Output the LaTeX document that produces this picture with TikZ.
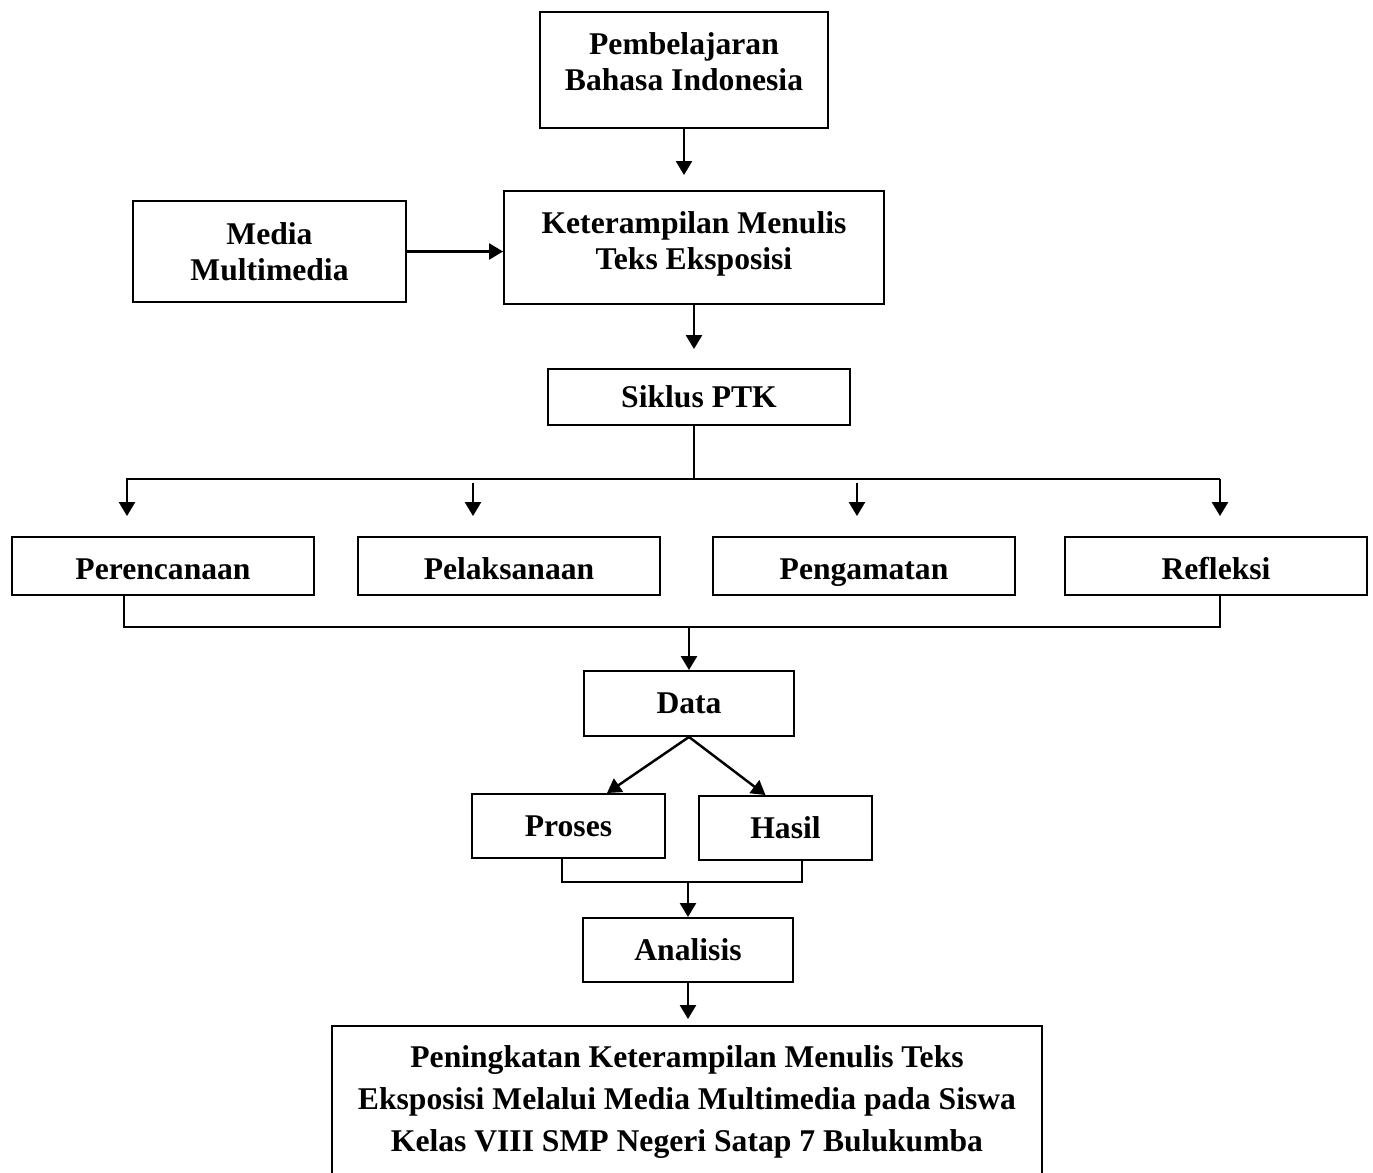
\documentclass[tikz,border=0pt]{standalone}
\usepackage{fontspec}
\setmainfont{Liberation Serif}
\usepackage{tikz}
\usetikzlibrary{arrows.meta, positioning}
\usepackage{xcolor}
\definecolor{boxbd}{RGB}{0,0,0}
\definecolor{arrowcol}{RGB}{0,0,0}

\begin{document}
\begin{tikzpicture}[
    x = 0.02cm, y = -0.02cm,
    box/.style    = {rectangle, draw=boxbd, line width=1.1pt, align=center,
                     inner sep=2pt,
                     font=\bfseries\fontsize{18}{20.5}\selectfont},
    stepbox/.style = {box, minimum width=6.04cm, minimum height=1.16cm,
                     text height=17pt, text depth=1.7pt},
    line/.style   = {line width=1.4pt, color=arrowcol},
    arrow/.style  = {line, -{Triangle[length=2.8mm,width=3.2mm]}},
]

\clip (0,0) rectangle (1373,1173);
\fill[white] (0,0) rectangle (1373,1173);

% ── Top boxes ───────────────────────────────────────────────────
\node[box, minimum width=5.76cm, minimum height=2.32cm, text depth=10pt]
    (b1) at (684,70) {Pembelajaran\\Bahasa Indonesia};
\node[box, minimum width=7.6cm, minimum height=2.26cm, text depth=8pt]
    (b2) at (694,247.5) {Keterampilan Menulis\\Teks Eksposisi};
\node[box, minimum width=5.46cm, minimum height=2.02cm] (m1) at (269.5,251.5)
    {Media\\Multimedia};
\node[box, minimum width=6.04cm, minimum height=1.12cm] (c1) at (699,397)
    {Siklus PTK};

% ── Cycle steps ─────────────────────────────────────────────────
\node[stepbox] (s1) at (163,566) {Perencanaan};
\node[stepbox] (s2) at (509,566) {Pelaksanaan};
\node[stepbox] (s3) at (864,566) {Pengamatan};
\node[stepbox] (s4) at (1216,566) {Refleksi};

% ── Data and analysis ───────────────────────────────────────────
\node[box, minimum width=4.2cm, minimum height=1.3cm] (d1) at (689,703.5)
    {Data};
\node[box, minimum width=3.86cm, minimum height=1.28cm] (d2) at (568.5,826)
    {Proses};
\node[box, minimum width=3.46cm, minimum height=1.28cm] (d3) at (785.5,828)
    {Hasil};
\node[box, minimum width=4.2cm, minimum height=1.28cm] (a1) at (688,950)
    {Analisis};
\node[box, minimum width=14.2cm, minimum height=3.04cm,
      font=\bfseries\fontsize{18}{24}\selectfont] (g1) at (687,1102)
    {Peningkatan Keterampilan Menulis Teks\\
     Eksposisi Melalui Media Multimedia pada Siswa\\
     Kelas VIII SMP Negeri Satap 7 Bulukumba};

% ── Bus coordinates ─────────────────────────────────────────────
\coordinate (t1) at (127,479);
\coordinate (t2) at (473,479);
\coordinate (t3) at (857,479);
\coordinate (t4) at (1220,479);
\coordinate (u1) at (124,627);
\coordinate (u4) at (1220,627);
\coordinate (v1) at (562,882);
\coordinate (v2) at (802,882);

% ── Arrows ──────────────────────────────────────────────────────
\draw[arrow, shorten >=0.3cm] (b1.south) -- (b1.south |- b2.north);
\draw[arrow] (m1.east) -- (m1.east -| b2.west);
\draw[arrow, shorten >=0.38cm] (b2.south) -- (b2.south |- c1.north);

\draw[line] (c1.south -| b2.south) -- (b2.south |- t1);
\draw[arrow, shorten >=0.4cm] (t4) -- (t1) -- (t1 |- s1.north);
\draw[arrow, shorten <=0.08cm, shorten >=0.4cm] (t2) -- (t2 |- s2.north);
\draw[arrow, shorten <=0.08cm, shorten >=0.4cm] (t3) -- (t3 |- s3.north);
\draw[arrow, shorten >=0.4cm] (t4) -- (t4 |- s4.north);

\draw[line] (u1 |- s1.south) -- (u1) -- (u4) -- (u4 |- s4.south);
\draw[arrow] (d1.north |- u1) -- (d1.north);

\draw[arrow] (d1.south) -- ([xshift=0.77cm]d2.north);
\draw[arrow] (d1.south) -- ([xshift=-0.4cm]d3.north);

\draw[line] (v1 |- d2.south) -- (v1) -- (v2) -- (v2 |- d3.south);
\draw[arrow] (a1.north |- v1) -- (a1.north);
\draw[arrow, shorten >=0.12cm] (a1.south) -- (a1.south |- g1.north);

\end{tikzpicture}
\end{document}
